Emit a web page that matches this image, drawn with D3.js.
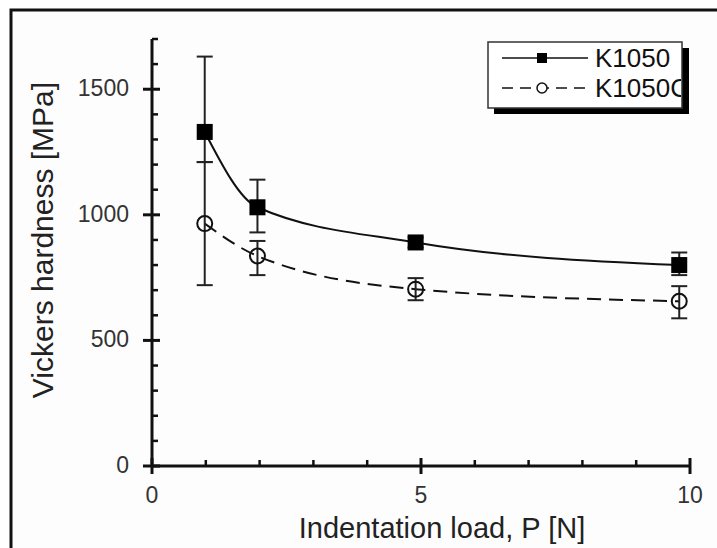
<!DOCTYPE html>
<html>
<head>
<meta charset="utf-8">
<script src="https://cdn.jsdelivr.net/npm/d3@7"></script>
<style>
  body { margin: 0; background: #fff; }
  svg { display: block; font-family: "Liberation Sans", Arial, sans-serif; }
</style>
</head>
<body>
<svg id="chart" width="717" height="548"></svg>
<script>
// data
const loads = [0.98, 1.96, 4.9, 9.8];
const k1050 = [1330, 1030, 890, 800];
const k1050Low = [1210, 930, 870, 760];
const k1050High = [1630, 1140, 910, 850];
const k1050c = [965, 836, 704, 656];
const k1050cLow = [720, 760, 660, 588];
const k1050cHigh = [1210, 896, 748, 716];
const xTicks = [0, 5, 10];
const yTicks = [0, 500, 1000, 1500];

const svg = d3.select('#chart');

// outer frame
svg.append('rect')
    .attr('x', 11).attr('y', 10)
    .attr('width', 720).attr('height', 560)
    .attr('fill', '#fdfdfd')
    .attr('stroke', '#111')
    .attr('stroke-width', 3);

const x = d3.scaleLinear().domain([0, 10]).range([152, 690]);
const y = d3.scaleLinear().domain([0, 1700]).range([466, 39]);

const g = svg.append('g');

// minor ticks (inside)
g.append('g').selectAll('line')
    .data(d3.range(100, 1701, 100).filter(v => v % 500 !== 0))
    .enter().append('line')
    .attr('x1', x(0)).attr('x2', x(0) + 6)
    .attr('y1', d => y(d)).attr('y2', d => y(d))
    .attr('stroke', '#111').attr('stroke-width', 2.5);

g.append('g').selectAll('line')
    .data(d3.range(1, 10).filter(v => v !== 5))
    .enter().append('line')
    .attr('x1', d => x(d)).attr('x2', d => x(d))
    .attr('y1', y(0)).attr('y2', y(0) - 6)
    .attr('stroke', '#111').attr('stroke-width', 2.5);

// major ticks (crossing)
g.append('g').selectAll('line')
    .data(yTicks)
    .enter().append('line')
    .attr('x1', x(0) - 9).attr('x2', x(0) + 8)
    .attr('y1', d => y(d)).attr('y2', d => y(d))
    .attr('stroke', '#111').attr('stroke-width', 3);

g.append('g').selectAll('line')
    .data(xTicks)
    .enter().append('line')
    .attr('x1', d => x(d)).attr('x2', d => x(d))
    .attr('y1', y(0) + 8).attr('y2', y(0) - 8)
    .attr('stroke', '#111').attr('stroke-width', 3);

// axis lines
g.append('line')
    .attr('x1', x(0)).attr('x2', x(0))
    .attr('y1', y(0)).attr('y2', y(1700))
    .attr('stroke', '#111').attr('stroke-width', 3);
g.append('line')
    .attr('x1', x(0)).attr('x2', x(10))
    .attr('y1', y(0)).attr('y2', y(0))
    .attr('stroke', '#111').attr('stroke-width', 3);

// tick labels
g.append('g').selectAll('text')
    .data(yTicks)
    .enter().append('text')
    .attr('x', 129).attr('y', d => y(d) + 7)
    .attr('text-anchor', 'end')
    .attr('font-size', 23)
    .attr('fill', '#333')
    .text(d => d);

g.append('g').selectAll('text')
    .data(xTicks)
    .enter().append('text')
    .attr('x', d => x(d)).attr('y', 503)
    .attr('text-anchor', 'middle')
    .attr('font-size', 23)
    .attr('fill', '#333')
    .text(d => d);

// axis titles
svg.append('text')
    .attr('x', 442).attr('y', 538)
    .attr('text-anchor', 'middle')
    .attr('font-size', 29)
    .attr('fill', '#222')
    .text('Indentation load, P [N]');

svg.append('text')
    .attr('transform', 'translate(53,240) rotate(-90)')
    .attr('text-anchor', 'middle')
    .attr('font-size', 30)
    .attr('fill', '#222')
    .text('Vickers hardness [MPa]');

// lines
const lineGen = vals => d3.line()
    .x((d, i) => x(loads[i]))
    .y(d => y(d))
    .curve(d3.curveMonotoneX)(vals);

g.append('path')
    .attr('d', lineGen(k1050))
    .attr('fill', 'none')
    .attr('stroke', '#111')
    .attr('stroke-width', 2);

g.append('path')
    .attr('d', lineGen(k1050c))
    .attr('fill', 'none')
    .attr('stroke', '#111')
    .attr('stroke-width', 2)
    .attr('stroke-dasharray', '14,8');

// error bars
function errorBars(lows, highs) {
    const eb = g.append('g').attr('stroke', '#222').attr('stroke-width', 2);
    loads.forEach((l, i) => {
        eb.append('line')
            .attr('x1', x(l)).attr('x2', x(l))
            .attr('y1', y(lows[i])).attr('y2', y(highs[i]));
        [lows[i], highs[i]].forEach(v => {
            eb.append('line')
                .attr('x1', x(l) - 8).attr('x2', x(l) + 8)
                .attr('y1', y(v)).attr('y2', y(v));
        });
    });
}
errorBars(k1050Low, k1050High);
errorBars(k1050cLow, k1050cHigh);

// markers
g.append('g').selectAll('rect')
    .data(k1050)
    .enter().append('rect')
    .attr('x', (d, i) => x(loads[i]) - 8)
    .attr('y', d => y(d) - 8)
    .attr('width', 16).attr('height', 16)
    .attr('fill', '#000');

g.append('g').selectAll('circle')
    .data(k1050c)
    .enter().append('circle')
    .attr('cx', (d, i) => x(loads[i]))
    .attr('cy', d => y(d))
    .attr('r', 7.5)
    .attr('fill', 'none')
    .attr('stroke', '#111')
    .attr('stroke-width', 2);

// legend
const leg = svg.append('g');
leg.append('rect')
    .attr('x', 494).attr('y', 48)
    .attr('width', 195).attr('height', 66)
    .attr('fill', '#000');
leg.append('rect')
    .attr('x', 488).attr('y', 42)
    .attr('width', 194).attr('height', 66)
    .attr('fill', '#fff')
    .attr('stroke', '#333')
    .attr('stroke-width', 1.5);

svg.append('defs').append('clipPath').attr('id', 'legclip')
    .append('rect').attr('x', 488).attr('y', 42).attr('width', 193).attr('height', 66);

leg.append('line')
    .attr('x1', 502).attr('x2', 588).attr('y1', 58).attr('y2', 58)
    .attr('stroke', '#111').attr('stroke-width', 1.5);
leg.append('rect')
    .attr('x', 537).attr('y', 53).attr('width', 10).attr('height', 10)
    .attr('fill', '#000');
leg.append('line')
    .attr('x1', 502).attr('x2', 588).attr('y1', 88).attr('y2', 88)
    .attr('stroke', '#111').attr('stroke-width', 1.5)
    .attr('stroke-dasharray', '11,7');
leg.append('circle')
    .attr('cx', 542).attr('cy', 88).attr('r', 5)
    .attr('fill', '#fff')
    .attr('stroke', '#111').attr('stroke-width', 1.5);

const legText = leg.append('g').attr('clip-path', 'url(#legclip)');
legText.append('text')
    .attr('x', 595).attr('y', 67)
    .attr('font-size', 26).attr('fill', '#111')
    .text('K1050');
legText.append('text')
    .attr('x', 595).attr('y', 97)
    .attr('font-size', 26).attr('fill', '#111')
    .text('K1050C');
</script>
</body>
</html>
